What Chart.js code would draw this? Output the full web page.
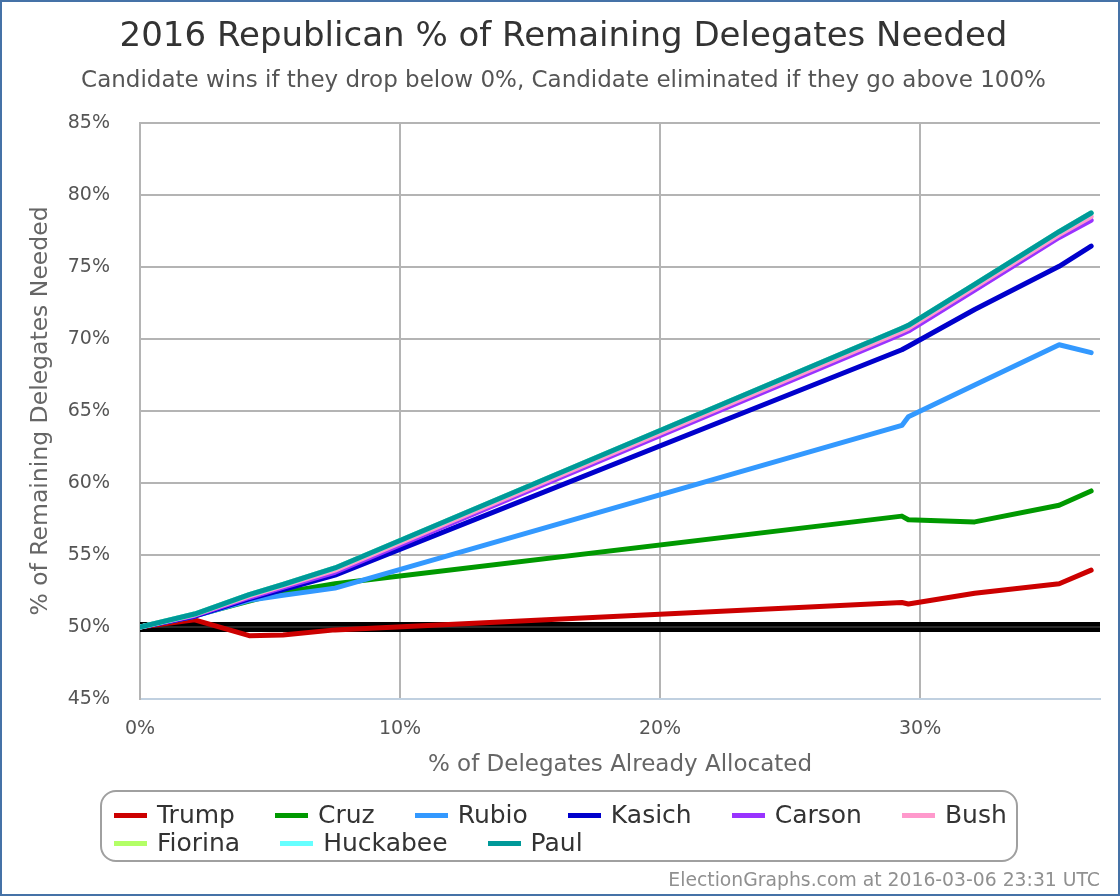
<!DOCTYPE html>
<html><head><meta charset="utf-8">
<script src="https://cdn.jsdelivr.net/npm/chart.js@4.4.0/dist/chart.umd.min.js"></script>
<style>
html,body{margin:0;padding:0;background:#fff;}
#frame{position:absolute;left:0;top:0;width:1116px;height:892px;border:2px solid #4572A7;background:#fff;font-family:'DejaVu Sans',sans-serif;}
#c{position:absolute;left:0;top:0;}
#legend{position:absolute;left:98px;top:788px;width:914px;height:68px;border:2px solid #a0a0a0;border-radius:16px;}
.row{position:absolute;left:12px;display:flex;gap:40px;white-space:nowrap;}
.item{display:flex;align-items:center;font-size:25px;line-height:28px;color:#333;}
.sw{width:33px;height:5px;margin-right:10px;}
#footer{position:absolute;right:18px;top:867px;font-size:18.8px;line-height:21px;color:#909090;white-space:nowrap;}
</style></head>
<body>
<div id="frame">
<canvas id="c" width="1116" height="892"></canvas>
<div id="legend"><div class="row" id="row1" style="top:9px"></div><div class="row" id="row2" style="top:37px"></div></div>
<div id="footer">ElectionGraphs.com at 2016-03-06 23:31 UTC</div>
</div>
<script>
// ---- data ----
const allocatedPct = [0, 2.1, 4.2, 5.5, 7.5, 29.3, 29.55, 32.1, 35.35, 36.58];
const trump    = [50.0, 50.5, 49.4, 49.45, 49.8, 51.7, 51.6, 52.35, 53.0, 53.95];
const cruz     = [50.0, 50.8, 51.8, 52.4, 53.0, 57.7, 57.45, 57.3, 58.45, 59.45];
const rubio    = [50.0, 50.75, 51.85, 52.2, 52.7, 64.0, 64.6, 66.8, 69.6, 69.05];
const kasich   = [50.0, 50.75, 51.95, 52.6, 53.6, 69.25, 69.5, 72.05, 75.05, 76.45];
const carson   = [50.0, 50.8, 52.05, 52.75, 53.8, 70.35, 70.55, 73.4, 77.05, 78.25];
const bush     = [50.0, 50.85, 52.15, 52.85, 53.95, 70.55, 70.75, 73.6, 77.25, 78.5];
const fiorina  = [50.0, 50.9, 52.25, 52.95, 54.1, 70.75, 70.95, 73.8, 77.45, 78.75];
const huckabee = [50.0, 50.9, 52.25, 52.95, 54.1, 70.75, 70.95, 73.8, 77.45, 78.75];
const paul     = [50.0, 50.9, 52.25, 52.95, 54.1, 70.75, 70.95, 73.8, 77.45, 78.75];
const candidates = ['Trump','Cruz','Rubio','Kasich','Carson','Bush','Fiorina','Huckabee','Paul'];
const seriesValues = [trump, cruz, rubio, kasich, carson, bush, fiorina, huckabee, paul];
const colors = ['#CC0000','#009900','#3399FF','#0000CC','#9933FF','#FF99CC','#B3FF66','#66FFFF','#009999'];
const xMin = 0, xMax = 36.92, yMin = 45, yMax = 85;
const xTickStep = 10, yTickStep = 5;
const thresholdPct = 50;

const FONT = "'DejaVu Sans', sans-serif";
const datasets = candidates.map((name, i) => ({
  label: name,
  data: allocatedPct.map((x, j) => ({x: x, y: seriesValues[i][j]})),
  borderColor: colors[i], backgroundColor: colors[i],
  borderWidth: 5, pointRadius: 0, fill: false, tension: 0,
  borderCapStyle: 'round', borderJoinStyle: 'round',
  order: candidates.length - i
}));
datasets.push({
  label: '', data: [{x: xMin, y: thresholdPct}, {x: xMax, y: thresholdPct}],
  borderColor: '#000', borderWidth: 10, pointRadius: 0, order: 20
});
datasets.push({
  label: '', data: [{x: xMin, y: thresholdPct}, {x: xMax, y: thresholdPct}],
  borderColor: '#555', borderWidth: 1.2, pointRadius: 0, order: 19
});

new Chart(document.getElementById('c'), {
  type: 'line',
  data: {datasets},
  options: {
    responsive: false, animation: false,
    layout: {padding: {left: 25, right: 18, top: 0, bottom: 115}},
    plugins: {
      legend: {display: false}, tooltip: {enabled: false},
      title: {display: true, text: '2016 Republican % of Remaining Delegates Needed', color: '#333',
        font: {family: FONT, size: 34, weight: 'normal'}, padding: {top: 14.6, bottom: 4}},
      subtitle: {display: true, text: 'Candidate wins if they drop below 0%, Candidate eliminated if they go above 100%', color: '#555',
        font: {family: FONT, size: 23, weight: 'normal'}, padding: {top: 5.8, bottom: 28.2}}
    },
    scales: {
      x: {type: 'linear', min: xMin, max: xMax,
        grid: {color: '#b4b4b4', lineWidth: 2, drawTicks: false},
        border: {display: true, color: '#C0D0E0', width: 2},
        ticks: {stepSize: xTickStep, includeBounds: false, padding: 19, color: '#555', font: {family: FONT, size: 19}, callback: v => v + '%'},
        title: {display: true, text: '% of Delegates Already Allocated', color: '#666', font: {family: FONT, size: 23}, padding: 0},
        afterFit(s) { s.height = 80; }
      },
      y: {min: yMin, max: yMax,
        grid: {color: '#b4b4b4', lineWidth: 2, drawTicks: false},
        border: {display: true, color: '#b4b4b4', width: 2},
        ticks: {stepSize: yTickStep, padding: 30, color: '#555', font: {family: FONT, size: 19}, callback: v => v + '%'},
        title: {display: true, text: '% of Remaining Delegates Needed', color: '#666', font: {family: FONT, size: 23.5}, padding: 0},
        afterFit(s) { s.width = 113; }
      }
    }
  }
});

// HTML legend built from the series names and colours
candidates.forEach((name, i) => {
  const item = document.createElement('div');
  item.className = 'item';
  const sw = document.createElement('span');
  sw.className = 'sw'; sw.style.background = colors[i];
  item.appendChild(sw);
  item.appendChild(document.createTextNode(name));
  document.getElementById(i < 6 ? 'row1' : 'row2').appendChild(item);
});
</script>
</body></html>
